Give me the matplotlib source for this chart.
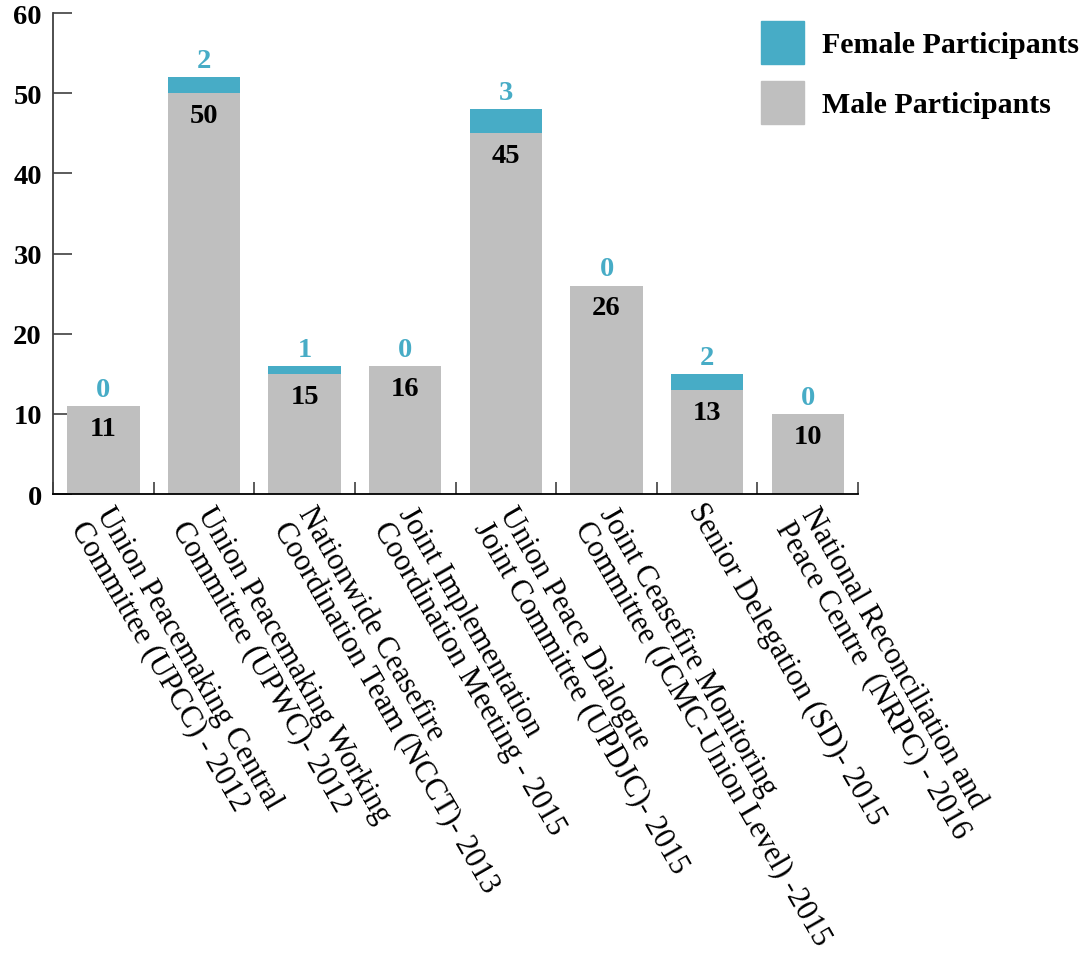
import matplotlib.pyplot as plt
import matplotlib.transforms as mtransforms
import matplotlib.patches as mpatches
import numpy as np

# bodies and their participants by gender
categories = [
    "Union Peacemaking Central\nCommittee (UPCC) - 2012",
    "Union Peacemaking Working\nCommittee (UPWC)- 2012",
    "Nationwide Ceasefire\nCoordination Team (NCCT)- 2013",
    "Joint Implementation\nCoordination Meeting - 2015",
    "Union Peace Dialogue\nJoint Committee (UPDJC)- 2015",
    "Joint Ceasefire Monitoring\nCommittee (JCMC-Union Level) -2015",
    "Senior Delegation (SD)- 2015",
    "National Reconciliation and\nPeace Centre  (NRPC) - 2016",
]
male = [11, 50, 15, 16, 45, 26, 13, 10]
female = [0, 2, 1, 0, 3, 0, 2, 0]
yticks = [0, 10, 20, 30, 40, 50, 60]

gray = '#BFBFBF'
teal = '#47ACC6'
plt.rcParams['font.family'] = ['Liberation Serif', 'DejaVu Serif']

fig = plt.figure(figsize=(10.88, 9.62), dpi=100)
ax = fig.add_axes([0.0487, 0.4854, 0.74, 0.50])

x = np.arange(len(categories))
ax.bar(x, male, width=0.72, color=gray, zorder=2)
ax.bar(x, female, width=0.72, bottom=male, color=teal, zorder=2)

tot = np.array(male) + np.array(female)
for i in range(len(x)):
    ax.annotate(str(male[i]), (x[i], male[i]), xytext=(0, -7), textcoords='offset points',
                ha='center', va='top', fontsize=20.5, fontweight='bold', color='black')
    ax.annotate(str(female[i]), (x[i], tot[i]), xytext=(0, 3), textcoords='offset points',
                ha='center', va='bottom', fontsize=20.5, fontweight='bold', color=teal)

ax.set_xlim(-0.5, 7.5)
ax.set_ylim(0, 60)
ax.set_yticks(yticks)
ax.set_yticklabels([str(v) for v in yticks], fontsize=20.5, fontweight='bold')
ax.tick_params(axis='y', direction='in', length=14, width=1.2, color='#404040', pad=8)

ax.set_xticks([])
ax.set_xticks(np.arange(-0.5, 8, 1), minor=True)
ax.tick_params(axis='x', which='minor', direction='in', length=9, width=1.2, color='#404040')

for s in ['top', 'right']:
    ax.spines[s].set_visible(False)
ax.spines['left'].set_color('#404040')
ax.spines['bottom'].set_color('black')
ax.spines['left'].set_linewidth(1.3)
ax.spines['bottom'].set_linewidth(1.3)

# rotated category labels under each bar (two-line labels sit a little lower)
for i, lab in enumerate(categories):
    nlines = lab.count('\n') + 1
    dy = -11 - 11 * (nlines - 1)
    trans = ax.get_xaxis_transform() + mtransforms.ScaledTranslation(-13 / 100, dy / 100, fig.dpi_scale_trans)
    ax.text(x[i], 0, lab, transform=trans, rotation=-60, rotation_mode='anchor',
            ha='left', va='center', fontsize=22, linespacing=1.0)

handles = [mpatches.Patch(color=teal, label='Female Participants'),
           mpatches.Patch(color=gray, label='Male Participants')]
fig.legend(handles=handles, loc='upper left', bbox_to_anchor=(0.699, 0.977), frameon=False,
           prop={'size': 21.5, 'weight': 'bold'}, handlelength=1.47, handleheight=1.85,
           labelspacing=0.55, handletextpad=0.6, borderpad=0, borderaxespad=0)

fig.savefig('out.png', dpi=100)
